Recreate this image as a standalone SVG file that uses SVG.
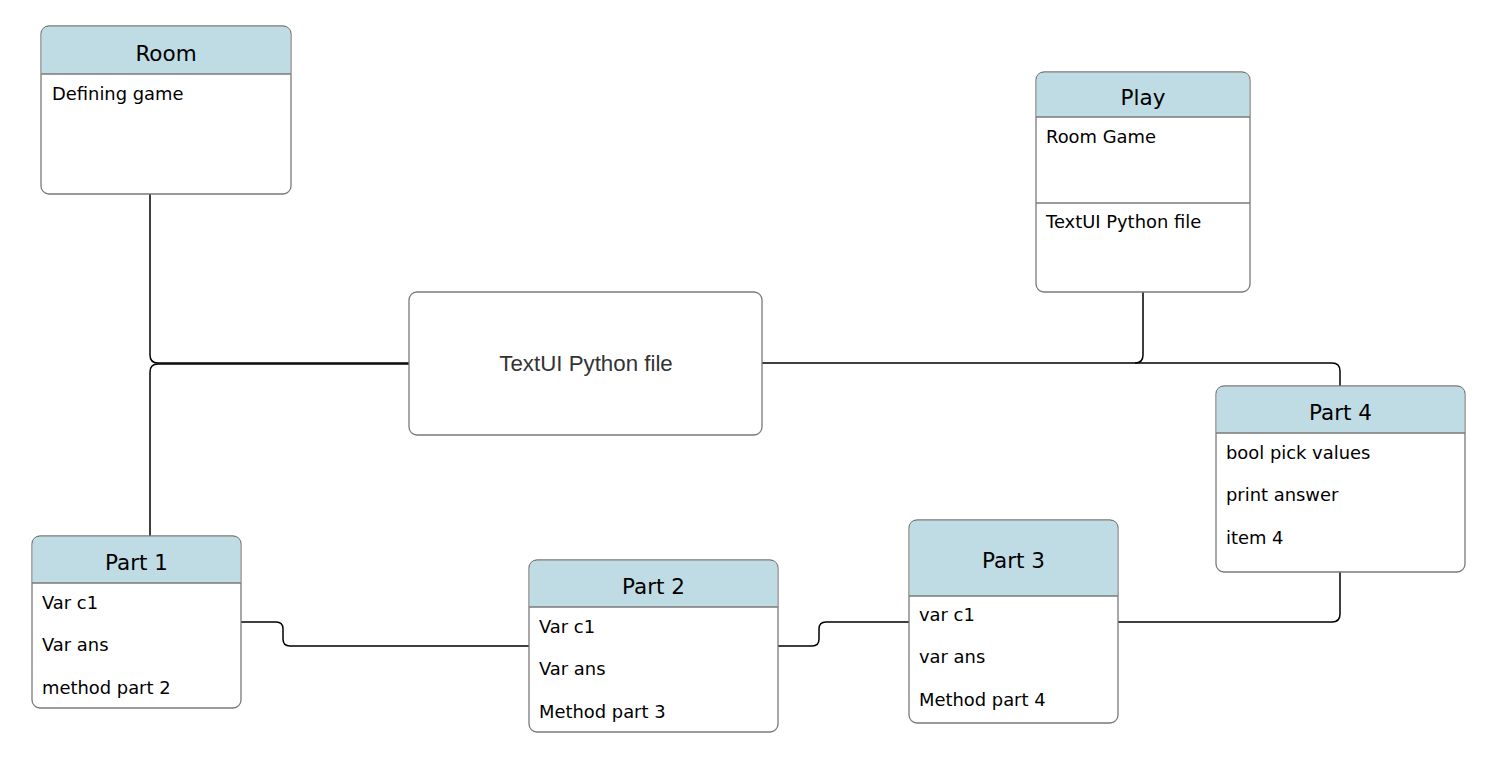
<svg xmlns="http://www.w3.org/2000/svg" width="1486" height="766" viewBox="0 0 1486 766">
<style>
.box{fill:#ffffff;stroke:#7a7a7a;stroke-width:1.3}
.hdr{fill:#bfdbe4;stroke:none}
.sep{stroke:#7a7a7a;stroke-width:1.3;fill:none}
.ttl{font-family:"DejaVu Sans",Verdana,sans-serif;font-size:21.5px;fill:#000;text-anchor:middle}
.row{font-family:"DejaVu Sans",Verdana,sans-serif;font-size:17.9px;fill:#000}
.ctr{font-family:"Liberation Sans",Arial,sans-serif;font-size:22.3px;fill:#333;text-anchor:middle}
.con{fill:none;stroke:#000;stroke-width:1.5}
</style>
<rect width="1486" height="766" fill="#ffffff"/>
<g id="connectors">
<path class="con" d="M150,194 V355 Q150,363 158,363 H409"/>
<path class="con" d="M150,536 V372 Q150,364 158,364 H409"/>
<path class="con" d="M762,363 H1135 Q1143,363 1143,355 V292"/>
<path class="con" d="M1135,363 H1332 Q1340,363 1340,371 V386"/>
<path class="con" d="M241,622 H276 Q283,622 283,629 V639 Q283,646 290,646 H529"/>
<path class="con" d="M778,646 H812 Q819,646 819,639 V629 Q819,622 826,622 H909"/>
<path class="con" d="M1118,622 H1332 Q1340,622 1340,614 V572"/>
</g>
<g id="room">
<rect class="box" x="41" y="26" width="250" height="168" rx="8"/>
<path class="hdr" d="M41.7,74 V34 Q41.7,26.7 49,26.7 H283 Q290.3,26.7 290.3,34 V74 Z"/>
<line class="sep" x1="41" y1="74" x2="291" y2="74"/>
<text class="ttl" x="166" y="61">Room</text>
<text class="row" x="52" y="100">Defining game</text>
</g>
<g id="play">
<rect class="box" x="1036" y="72" width="214" height="220" rx="8"/>
<path class="hdr" d="M1036.7,117 V80 Q1036.7,72.7 1044,72.7 H1242 Q1249.3,72.7 1249.3,80 V117 Z"/>
<line class="sep" x1="1036" y1="117" x2="1250" y2="117"/>
<line class="sep" x1="1036" y1="203" x2="1250" y2="203"/>
<text class="ttl" x="1143" y="105">Play</text>
<text class="row" x="1046" y="143">Room Game</text>
<text class="row" x="1046" y="228">TextUI Python file</text>
</g>
<g id="textui">
<rect class="box" x="409" y="292" width="353" height="143" rx="8"/>
<text class="ctr" x="586" y="371">TextUI Python file</text>
</g>
<g id="part4">
<rect class="box" x="1216" y="386" width="249" height="186" rx="8"/>
<path class="hdr" d="M1216.7,433 V394 Q1216.7,386.7 1224,386.7 H1457 Q1464.3,386.7 1464.3,394 V433 Z"/>
<line class="sep" x1="1216" y1="433" x2="1465" y2="433"/>
<text class="ttl" x="1340.5" y="420">Part 4</text>
<text class="row" x="1226" y="459">bool pick values</text>
<text class="row" x="1226" y="501">print answer</text>
<text class="row" x="1226" y="544">item 4</text>
</g>
<g id="part1">
<rect class="box" x="32" y="536" width="209" height="172" rx="8"/>
<path class="hdr" d="M32.7,583 V544 Q32.7,536.7 40,536.7 H233 Q240.3,536.7 240.3,544 V583 Z"/>
<line class="sep" x1="32" y1="583" x2="241" y2="583"/>
<text class="ttl" x="136.5" y="570">Part 1</text>
<text class="row" x="42" y="609">Var c1</text>
<text class="row" x="42" y="651">Var ans</text>
<text class="row" x="42" y="694">method part 2</text>
</g>
<g id="part2">
<rect class="box" x="529" y="560" width="249" height="172" rx="8"/>
<path class="hdr" d="M529.7,607 V568 Q529.7,560.7 537,560.7 H770 Q777.3,560.7 777.3,568 V607 Z"/>
<line class="sep" x1="529" y1="607" x2="778" y2="607"/>
<text class="ttl" x="653.5" y="594">Part 2</text>
<text class="row" x="539" y="633">Var c1</text>
<text class="row" x="539" y="675">Var ans</text>
<text class="row" x="539" y="718">Method part 3</text>
</g>
<g id="part3">
<rect class="box" x="909" y="520" width="209" height="203" rx="8"/>
<path class="hdr" d="M909.7,596 V528 Q909.7,520.7 917,520.7 H1110 Q1117.3,520.7 1117.3,528 V596 Z"/>
<line class="sep" x1="909" y1="596" x2="1118" y2="596"/>
<text class="ttl" x="1013.5" y="568">Part 3</text>
<text class="row" x="919" y="621">var c1</text>
<text class="row" x="919" y="663">var ans</text>
<text class="row" x="919" y="706">Method part 4</text>
</g>
</svg>
